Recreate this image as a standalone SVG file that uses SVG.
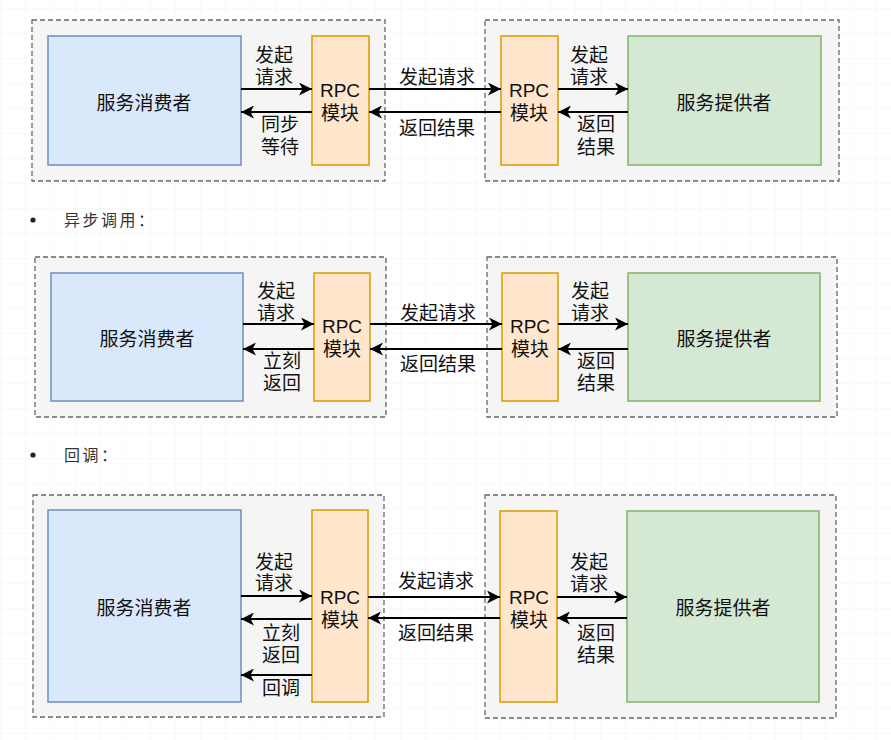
<svg xmlns="http://www.w3.org/2000/svg" width="891" height="740" viewBox="0 0 891 740">
<defs>
<pattern id="grid" x="0" y="8" width="25" height="25" patternUnits="userSpaceOnUse">
<path d="M25 0 L0 0 L0 25" fill="none" stroke="#f3f3f3" stroke-width="1"/>
</pattern>
<marker id="arr" markerUnits="userSpaceOnUse" markerWidth="15" markerHeight="13" refX="13" refY="6.5" orient="auto">
<path d="M0,0 L13,6.5 L0,13 L3.5,6.5 Z" fill="#000"/>
</marker>
<style>
.cont{fill:#f5f5f5;stroke:#666666;stroke-width:1.3;stroke-dasharray:5 3}
.cons{fill:#dae8fc;stroke:#6c8ebf;stroke-width:1.5}
.rpc{fill:#ffe6cc;stroke:#d79b00;stroke-width:1.5}
.prov{fill:#d5e8d4;stroke:#82b366;stroke-width:1.5}
.t{font-family:"Liberation Sans","Noto Sans CJK SC",sans-serif;font-size:19px;fill:#111;text-anchor:middle}
.b{font-family:"Noto Sans CJK SC",sans-serif;font-size:16px;fill:#333;letter-spacing:2.5px}
.c{stroke:#000;stroke-width:2;fill:none;marker-end:url(#arr)}
</style>
</defs>
<rect width="891" height="740" fill="#ffffff"/>
<rect width="891" height="740" fill="url(#grid)"/>

<!-- Diagram 1: sync -->
<g id="d1-left-container"><rect class="cont" x="32" y="20" width="353" height="161"/></g>
<g id="d1-right-container"><rect class="cont" x="485" y="20" width="354" height="161"/></g>
<g id="d1-consumer"><rect class="cons" x="48" y="36" width="193" height="129"/><text class="t" x="144" y="110">服务消费者</text></g>
<g id="d1-rpc-left"><rect class="rpc" x="312" y="36" width="57" height="129"/><text class="t" x="340" y="97">RPC</text><text class="t" x="340" y="120">模块</text></g>
<g id="d1-rpc-right"><rect class="rpc" x="501" y="36" width="57" height="129"/><text class="t" x="529" y="97">RPC</text><text class="t" x="529" y="120">模块</text></g>
<g id="d1-provider"><rect class="prov" x="628" y="36" width="193" height="129"/><text class="t" x="724" y="110">服务提供者</text></g>
<g id="d1-connectors">
<path class="c" d="M241 89 L312 89"/>
<path class="c" d="M312 112 L241 112"/>
<path class="c" d="M369 89 L501 89"/>
<path class="c" d="M501 112 L369 112"/>
<path class="c" d="M558 89 L628 89"/>
<path class="c" d="M628 112 L558 112"/>
<text class="t" x="274" y="62">发起</text><text class="t" x="274" y="84">请求</text>
<text class="t" x="280" y="131">同步</text><text class="t" x="280" y="154">等待</text>
<text class="t" x="437" y="84">发起请求</text>
<text class="t" x="437" y="135">返回结果</text>
<text class="t" x="589" y="62">发起</text><text class="t" x="589" y="84">请求</text>
<text class="t" x="596" y="131">返回</text><text class="t" x="596" y="154">结果</text>
</g>

<!-- bullet 1 -->
<g id="bullet-async"><circle cx="33" cy="220" r="2.6" fill="#222"/><text class="b" x="64" y="226">异步调用：</text></g>

<!-- Diagram 2: async -->
<g id="d2-left-container"><rect class="cont" x="35" y="257" width="351" height="160"/></g>
<g id="d2-right-container"><rect class="cont" x="487" y="257" width="350" height="160"/></g>
<g id="d2-consumer"><rect class="cons" x="51" y="273" width="192" height="128"/><text class="t" x="147" y="346">服务消费者</text></g>
<g id="d2-rpc-left"><rect class="rpc" x="314" y="273" width="56" height="128"/><text class="t" x="342" y="333">RPC</text><text class="t" x="342" y="356">模块</text></g>
<g id="d2-rpc-right"><rect class="rpc" x="502" y="273" width="56" height="128"/><text class="t" x="530" y="333">RPC</text><text class="t" x="530" y="356">模块</text></g>
<g id="d2-provider"><rect class="prov" x="628" y="273" width="192" height="128"/><text class="t" x="724" y="346">服务提供者</text></g>
<g id="d2-connectors">
<path class="c" d="M243 324 L314 324"/>
<path class="c" d="M314 349 L243 349"/>
<path class="c" d="M370 324 L502 324"/>
<path class="c" d="M502 349 L370 349"/>
<path class="c" d="M558 324 L628 324"/>
<path class="c" d="M628 349 L558 349"/>
<text class="t" x="276" y="298">发起</text><text class="t" x="276" y="320">请求</text>
<text class="t" x="282" y="368">立刻</text><text class="t" x="282" y="390">返回</text>
<text class="t" x="438" y="320">发起请求</text>
<text class="t" x="438" y="371">返回结果</text>
<text class="t" x="590" y="298">发起</text><text class="t" x="590" y="320">请求</text>
<text class="t" x="596" y="368">返回</text><text class="t" x="596" y="390">结果</text>
</g>

<!-- bullet 2 -->
<g id="bullet-callback"><circle cx="33" cy="455" r="2.6" fill="#222"/><text class="b" x="64" y="461">回调：</text></g>

<!-- Diagram 3: callback -->
<g id="d3-left-container"><rect class="cont" x="33" y="495" width="351" height="222"/></g>
<g id="d3-right-container"><rect class="cont" x="485" y="495" width="351" height="223"/></g>
<g id="d3-consumer"><rect class="cons" x="48" y="510" width="193" height="192"/><text class="t" x="144" y="615">服务消费者</text></g>
<g id="d3-rpc-left"><rect class="rpc" x="312" y="510" width="56" height="192"/><text class="t" x="340" y="604">RPC</text><text class="t" x="340" y="627">模块</text></g>
<g id="d3-rpc-right"><rect class="rpc" x="500" y="511" width="57" height="191"/><text class="t" x="529" y="604">RPC</text><text class="t" x="529" y="627">模块</text></g>
<g id="d3-provider"><rect class="prov" x="627" y="511" width="192" height="191"/><text class="t" x="723" y="615">服务提供者</text></g>
<g id="d3-connectors">
<path class="c" d="M241 596 L312 596"/>
<path class="c" d="M312 619 L241 619"/>
<path class="c" d="M312 675 L241 675"/>
<path class="c" d="M368 597 L500 597"/>
<path class="c" d="M500 618 L368 618"/>
<path class="c" d="M557 597 L627 597"/>
<path class="c" d="M627 618 L557 618"/>
<text class="t" x="274" y="569">发起</text><text class="t" x="274" y="590">请求</text>
<text class="t" x="281" y="640">立刻</text><text class="t" x="281" y="662">返回</text>
<text class="t" x="281" y="695">回调</text>
<text class="t" x="436" y="588">发起请求</text>
<text class="t" x="436" y="640">返回结果</text>
<text class="t" x="589" y="569">发起</text><text class="t" x="589" y="591">请求</text>
<text class="t" x="596" y="640">返回</text><text class="t" x="596" y="662">结果</text>
</g>
</svg>
